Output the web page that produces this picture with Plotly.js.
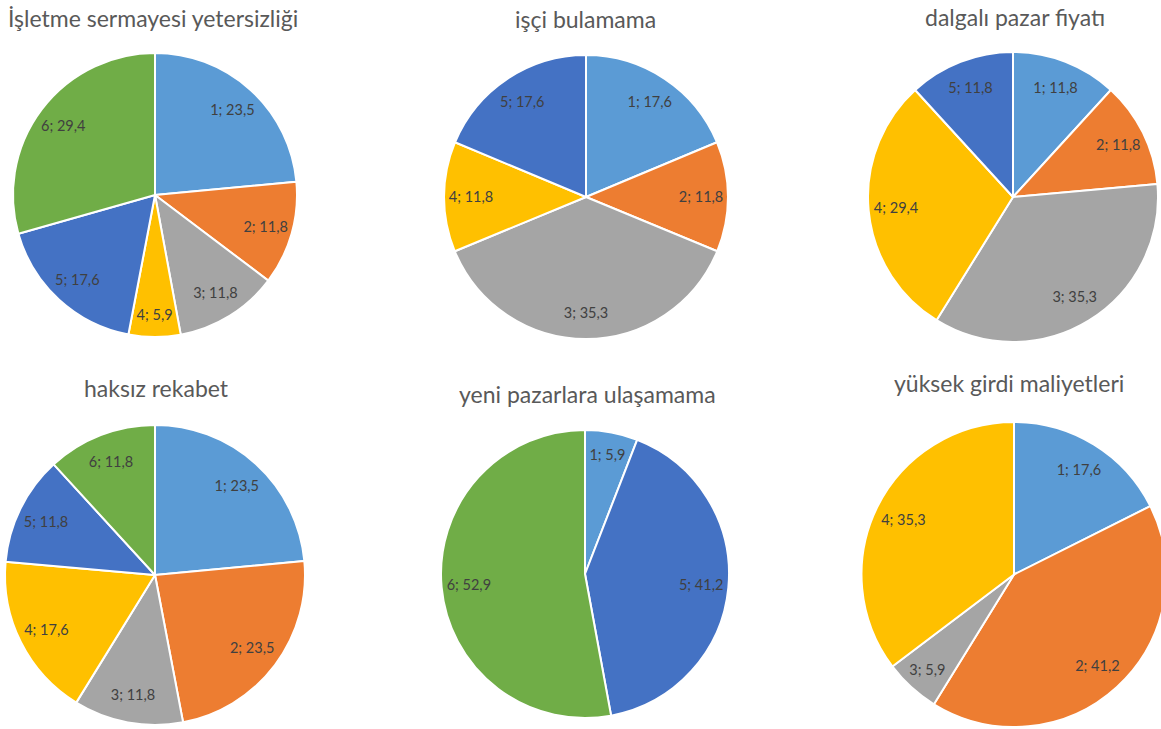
<!DOCTYPE html>
<html>
<head>
<meta charset="utf-8">
<script src="https://cdn.plot.ly/plotly-3.0.1.min.js"></script>
<style>
  html, body { margin: 0; padding: 0; background: #ffffff; overflow: hidden; }
  #chart { width: 1170px; height: 729px; }
</style>
</head>
<body>
<div id="chart"></div>
<script>
// ---- data ----
const titles = [
  "İşletme sermayesi yetersizliği",
  "işçi bulamama",
  "dalgalı pazar fiyatı",
  "haksız rekabet",
  "yeni pazarlara ulaşamama",
  "yüksek girdi maliyetleri"
];
const labels1 = ["1", "2", "3", "4", "5", "6"];
const values1 = [23.5, 11.8, 11.8, 5.9, 17.6, 29.4];
const labels2 = ["1", "2", "3", "4", "5"];
const values2 = [17.6, 11.8, 35.3, 11.8, 17.6];
const labels3 = ["1", "2", "3", "4", "5"];
const values3 = [11.8, 11.8, 35.3, 29.4, 11.8];
const labels4 = ["1", "2", "3", "4", "5", "6"];
const values4 = [23.5, 23.5, 11.8, 17.6, 11.8, 11.8];
const labels5 = ["1", "5", "6"];
const values5 = [5.9, 41.2, 52.9];
const labels6 = ["1", "2", "3", "4"];
const values6 = [17.6, 41.2, 5.9, 35.3];

// ---- style / layout ----
const categoryColors = {
  "1": "#5B9BD5", "2": "#ED7D31", "3": "#A5A5A5",
  "4": "#FFC000", "5": "#4472C4", "6": "#70AD47"
};
const W = 1170, H = 729;
const geo = [
  {cx: 155, cy: 195, r: 142, tx: 153, ty: 18},
  {cx: 586, cy: 197, r: 142, tx: 585, ty: 19},
  {cx: 1013, cy: 197, r: 145, tx: 1015, ty: 17},
  {cx: 155, cy: 575, r: 150, tx: 156, ty: 388},
  {cx: 585, cy: 574, r: 144, tx: 587, ty: 394},
  {cx: 1014, cy: 574.5, r: 152.5, tx: 1009, ty: 383}
];
const allLabels = [labels1, labels2, labels3, labels4, labels5, labels6];
const allValues = [values1, values2, values3, values4, values5, values6];

const FONT = "Lato, 'Open Sans', sans-serif";
const traces = [];
const annotations = [];
allLabels.forEach((labs, i) => {
  const g = geo[i];
  const domain = {
    x: [(g.cx - g.r) / W, (g.cx + g.r) / W],
    y: [1 - (g.cy + g.r) / H, 1 - (g.cy - g.r) / H]
  };
  // coloured slices
  traces.push({
    type: "pie",
    labels: labs,
    values: allValues[i],
    sort: false,
    direction: "clockwise",
    rotation: 0,
    domain: domain,
    marker: {colors: labs.map(l => categoryColors[l]), line: {color: "#ffffff", width: 2}},
    textinfo: "none",
    textposition: "none",
    hoverinfo: "label+value",
    showlegend: false
  });
  // labels placed in an outer ring of the same pie
  traces.push({
    type: "pie",
    labels: labs,
    values: allValues[i],
    sort: false,
    direction: "clockwise",
    rotation: 0,
    hole: 0.62,
    domain: domain,
    marker: {colors: labs.map(() => "rgba(0,0,0,0)"), line: {width: 0}},
    texttemplate: "%{label}; %{value:.1f}",
    textposition: "inside",
    insidetextorientation: "horizontal",
    insidetextfont: {family: FONT, size: 14.5, color: "#404040"},
    hoverinfo: "skip",
    showlegend: false
  });
  annotations.push({
    text: titles[i],
    x: g.tx / W, y: 1 - g.ty / H,
    xref: "paper", yref: "paper",
    xanchor: "center", yanchor: "middle",
    showarrow: false,
    font: {family: FONT, size: 23, color: "#595959"}
  });
});

const layout = {
  width: W, height: H,
  margin: {l: 0, r: 0, t: 0, b: 0},
  paper_bgcolor: "#ffffff",
  separators: ",.",
  showlegend: false,
  annotations: annotations
};
Plotly.newPlot("chart", traces, layout, {displayModeBar: false, staticPlot: true});
</script>
</body>
</html>
